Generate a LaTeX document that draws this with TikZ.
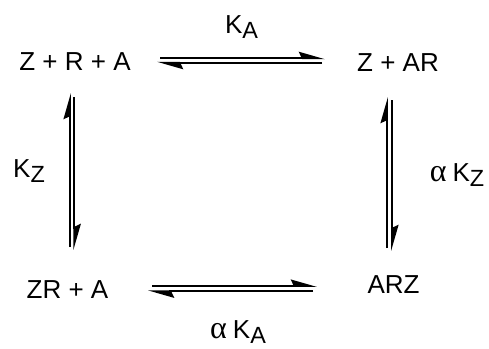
\documentclass[tikz,border=0pt]{standalone}
\usepackage{fontspec}
\setmainfont{Liberation Sans}
\newfontfamily\greekserif{Liberation Serif}
\usetikzlibrary{arrows.meta}
\newcommand{\Ksub}[1]{K\raisebox{-5bp}{\scalebox{0.9}{#1}}}
\newcommand{\alp}{{\greekserif\fontsize{32bp}{34bp}\selectfont α}}
\begin{document}
\begin{tikzpicture}[x=1bp,y=-1bp,
  lbl/.style={inner sep=0pt, anchor=base, font=\fontsize{26bp}{30bp}\selectfont},
  eq/.style={line width=1.8bp, -{Stealth[harpoon,length=23bp,width=13bp,inset=3bp]}}]
\useasboundingbox (0,0) rectangle (489,348);
\node[lbl] (zra) at (75,70.5) {Z + R + A};
\node[lbl] (zar) at (398,71) {Z + AR};
\node[lbl] (zrA) at (67.5,298) {ZR + A};
\node[lbl] (arz) at (393.5,293) {ARZ};
\node[lbl] (ka) at (241.5,33) {\Ksub{A}};
\node[lbl] (kz) at (29,177) {\Ksub{Z}};
\node[lbl] (akz) at (457,181) {\alp\hspace{6bp}\Ksub{Z}};
\node[lbl] (aka) at (238,338.5) {\alp\hspace{6bp}\Ksub{A}};
% top equilibrium
\coordinate (t1s) at (160,58.3); \coordinate (t1e) at (325,58.3);
\coordinate (t2s) at (322,62.7); \coordinate (t2e) at (157,62.7);
\draw[eq] (t1s) -- (t1e);
\draw[eq] (t2s) -- (t2e);
% left equilibrium
\coordinate (l1s) at (70,247); \coordinate (l1e) at (70,93);
\coordinate (l2s) at (74.3,97); \coordinate (l2e) at (74.3,250);
\draw[eq] (l1s) -- (l1e);
\draw[eq] (l2s) -- (l2e);
% right equilibrium
\coordinate (r1s) at (387,248); \coordinate (r1e) at (387,97);
\coordinate (r2s) at (392,100); \coordinate (r2e) at (392,251);
\draw[eq] (r1s) -- (r1e);
\draw[eq] (r2s) -- (r2e);
% bottom equilibrium
\coordinate (b1s) at (152,286); \coordinate (b1e) at (317,286);
\coordinate (b2s) at (313,291.3); \coordinate (b2e) at (148,291.3);
\draw[eq] (b1s) -- (b1e);
\draw[eq] (b2s) -- (b2e);
\end{tikzpicture}
\end{document}
